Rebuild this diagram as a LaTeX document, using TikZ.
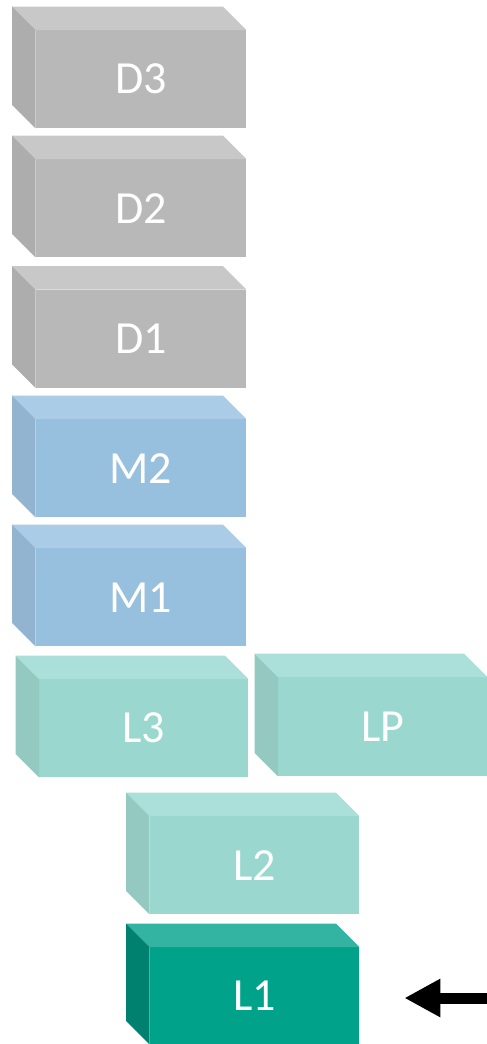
\documentclass[tikz,border=0pt]{standalone}
\usepackage{fontspec}
\setmainfont{Carlito}
\usetikzlibrary{arrows.meta}
\definecolor{grayfront}{HTML}{B8B8B8}
\definecolor{graytop}{HTML}{C8C8C8}
\definecolor{grayside}{HTML}{ADADAD}
\definecolor{bluefront}{HTML}{97C0DF}
\definecolor{bluetop}{HTML}{AACCE6}
\definecolor{blueside}{HTML}{93B4D1}
\definecolor{tealfront}{HTML}{99D7CF}
\definecolor{tealtop}{HTML}{ABDFD9}
\definecolor{tealside}{HTML}{94C9C2}
\definecolor{darkfront}{HTML}{00A28A}
\definecolor{darktop}{HTML}{33B3A2}
\definecolor{darkside}{HTML}{00806E}
\tikzset{
  face/.style={inner sep=0pt, text=white, font=\fontsize{46}{46}\selectfont, anchor=north west},
  pointer/.style={line width=11pt, -{Triangle[length=36pt,width=36pt]}}
}
\newcommand{\blockbox}[7]{%
  \node[face, fill=#6front, minimum width=#4pt, minimum height=#5pt] (#1) at (#2,#3) {\raisebox{-1pt}{#7}};
  \fill[#6top] (#1.north west) -- ([xshift=-23.5pt,yshift=23.5pt]#1.north west)
     -- ([xshift=-23.5pt,yshift=23.5pt]#1.north east) -- (#1.north east) -- cycle;
  \fill[#6side] (#1.north west) -- ([xshift=-23.5pt,yshift=23.5pt]#1.north west)
     -- ([xshift=-23.5pt,yshift=23.5pt]#1.south west) -- (#1.south west) -- cycle;
}
\begin{document}
\begin{tikzpicture}[x=1pt,y=-1pt]
\useasboundingbox (0,0) rectangle (487,1044);
\blockbox{D3}{35.5}{30}{210.5}{98}{gray}{D3}
\blockbox{D2}{35.5}{159}{210.5}{98}{gray}{D2}
\blockbox{D1}{35.5}{289.5}{210.5}{98}{gray}{D1}
\blockbox{M2}{35.5}{419}{210.5}{98}{blue}{M2}
\blockbox{M1}{35.5}{548}{210.5}{98}{blue}{M1}
\blockbox{L3}{39}{679}{209}{98}{teal}{L3}
\blockbox{LP}{278}{677}{209}{99}{teal}{LP}
\blockbox{L2}{149.5}{816}{209.5}{98}{teal}{L2}
\blockbox{L1}{149.5}{947}{209.5}{97}{dark}{L1}
\coordinate (arrowstart) at (487,998);
\draw[pointer, shorten >=45pt] (arrowstart) -- (arrowstart -| L1.east);
\end{tikzpicture}
\end{document}
